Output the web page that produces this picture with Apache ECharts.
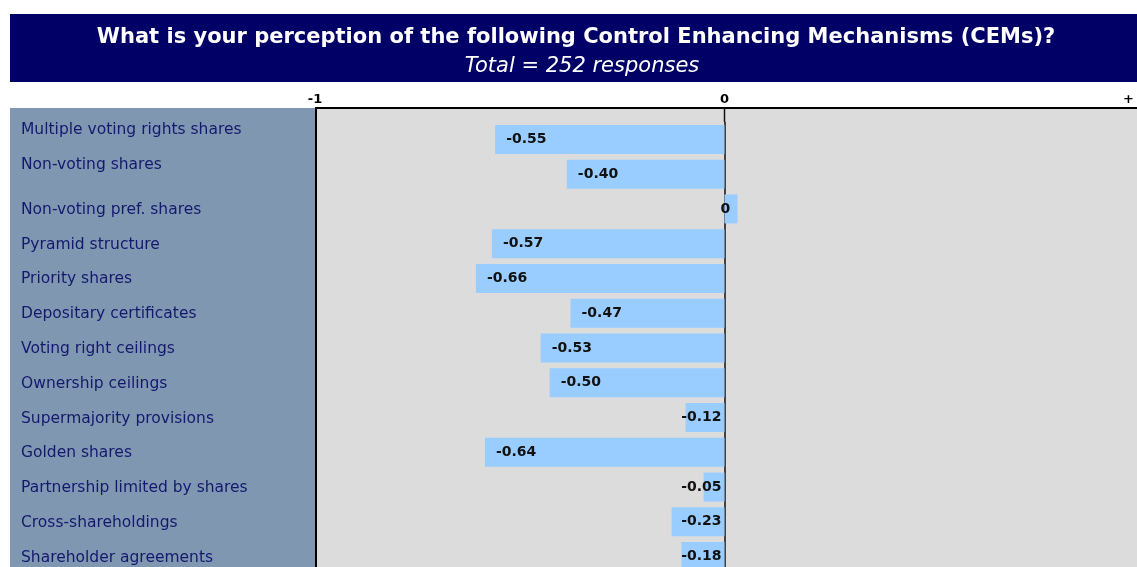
<!DOCTYPE html>
<html>
<head>
<meta charset="utf-8">
<script src="https://cdn.jsdelivr.net/npm/echarts@6/dist/echarts.min.js"></script>
<style>
  html, body { margin: 0; padding: 0; background: #fff; overflow: hidden; }
  #main { width: 1137px; height: 600px; }
</style>
</head>
<body>
<div id="main"></div>
<script>
// data
var categories = [
    'Multiple voting rights shares',
    'Non-voting shares',
    'Non-voting pref. shares',
    'Pyramid structure',
    'Priority shares',
    'Depositary certificates',
    'Voting right ceilings',
    'Ownership ceilings',
    'Supermajority provisions',
    'Golden shares',
    'Partnership limited by shares',
    'Cross-shareholdings',
    'Shareholder agreements'
];
// printed scores
var labelValues = [-0.55, -0.40, 0, -0.57, -0.66, -0.47, -0.53, -0.50, -0.12, -0.64, -0.05, -0.23, -0.18];
// bar lengths as drawn on the -1 .. + scale
var barValues = [-0.56, -0.385, 0, -0.568, -0.607, -0.376, -0.449, -0.427, -0.095, -0.585, -0.051, -0.129, -0.105];
var tickLabels = { '-1': '-1', '0': '0', '1': '+' };

var fontMain = '"DejaVu Sans", Verdana, Tahoma, sans-serif';

// bar data, label side depends on bar length
var barData = [];
for (var i = 0; i < barValues.length; i++) {
    var v = barValues[i];
    var pos = 'insideLeft', dist = 11;
    if (v === 0) { dist = -4; }
    else if (v > -0.2) { pos = 'insideRight'; dist = 3; }
    barData.push({ value: v, label: { position: pos, distance: dist } });
}

var chart = echarts.init(document.getElementById('main'));

var option = {
    animation: false,
    title: [{
        text: 'What is your perception of the following Control Enhancing Mechanisms (CEMs)?',
        left: 571,
        top: 22,
        textAlign: 'center',
        textStyle: { color: '#fff', fontSize: 21, fontWeight: 'bold', fontFamily: fontMain }
    }, {
        text: 'Total = 252 responses',
        left: 577,
        top: 51,
        textAlign: 'center',
        textStyle: { color: '#fff', fontSize: 21, fontWeight: 'normal', fontStyle: 'italic', fontFamily: fontMain }
    }],
    grid: { left: 315, top: 122, width: 820, height: 452 },
    xAxis: {
        type: 'value',
        position: 'top',
        min: -1,
        max: 1,
        interval: 1,
        axisLine: { show: false },
        axisTick: { show: false },
        axisLabel: {
            margin: 16,
            color: '#000',
            fontSize: 13,
            fontWeight: 'bold',
            fontFamily: fontMain,
            alignMaxLabel: 'right',
            formatter: function (val) { return tickLabels[String(val)]; }
        },
        splitLine: {
            show: true,
            lineStyle: { color: ['rgba(0,0,0,0)', '#111', 'rgba(0,0,0,0)'], width: 1.5 }
        }
    },
    yAxis: {
        type: 'category',
        inverse: true,
        data: categories,
        axisLine: { show: false },
        axisTick: { show: false },
        axisLabel: {
            align: 'left',
            margin: 294,
            color: '#14196e',
            fontSize: 15.5,
            fontFamily: fontMain,
            formatter: function (val, idx) {
                return idx < 2 ? '{hi|' + val + '}' : '{lo|' + val + '}';
            },
            rich: {
                hi: { fontSize: 15.5, color: '#14196e', fontFamily: fontMain, padding: [0, 0, 18, 0] },
                lo: { fontSize: 15.5, color: '#14196e', fontFamily: fontMain, padding: [2, 0, 0, 0] }
            }
        }
    },
    graphic: [
        { type: 'rect', z: -10, shape: { x: 10, y: 14, width: 1127, height: 68 }, style: { fill: '#000066' } },
        { type: 'rect', z: -10, shape: { x: 10, y: 108, width: 305, height: 492 }, style: { fill: '#8097b2' } },
        { type: 'rect', z: -10, shape: { x: 315, y: 108, width: 822, height: 492 }, style: { fill: '#dcdcdc' } },
        { type: 'line', z: 10, shape: { x1: 315, y1: 108, x2: 1137, y2: 108 }, style: { stroke: '#000', lineWidth: 2 } },
        { type: 'line', z: 10, shape: { x1: 316, y1: 108, x2: 316, y2: 600 }, style: { stroke: '#000', lineWidth: 2 } }
    ],
    series: [{
        type: 'bar',
        data: barData,
        barWidth: 29,
        barMinHeight: 13,
        itemStyle: { color: '#99ccff' },
        label: {
            show: true,
            color: '#111',
            fontSize: 14,
            fontWeight: 'bold',
            fontFamily: fontMain,
            formatter: function (p) {
                var lv = labelValues[p.dataIndex];
                return lv === 0 ? '0' : lv.toFixed(2);
            }
        }
    }]
};
chart.setOption(option);

// short stub of the zero line between the top border and the grid
var x0 = chart.convertToPixel({ xAxisIndex: 0 }, 0);
option.graphic.push({ type: 'line', z: 10, shape: { x1: x0, y1: 108, x2: x0, y2: 122 }, style: { stroke: '#111', lineWidth: 1.5 } });
chart.setOption({ graphic: option.graphic });
</script>
</body>
</html>
